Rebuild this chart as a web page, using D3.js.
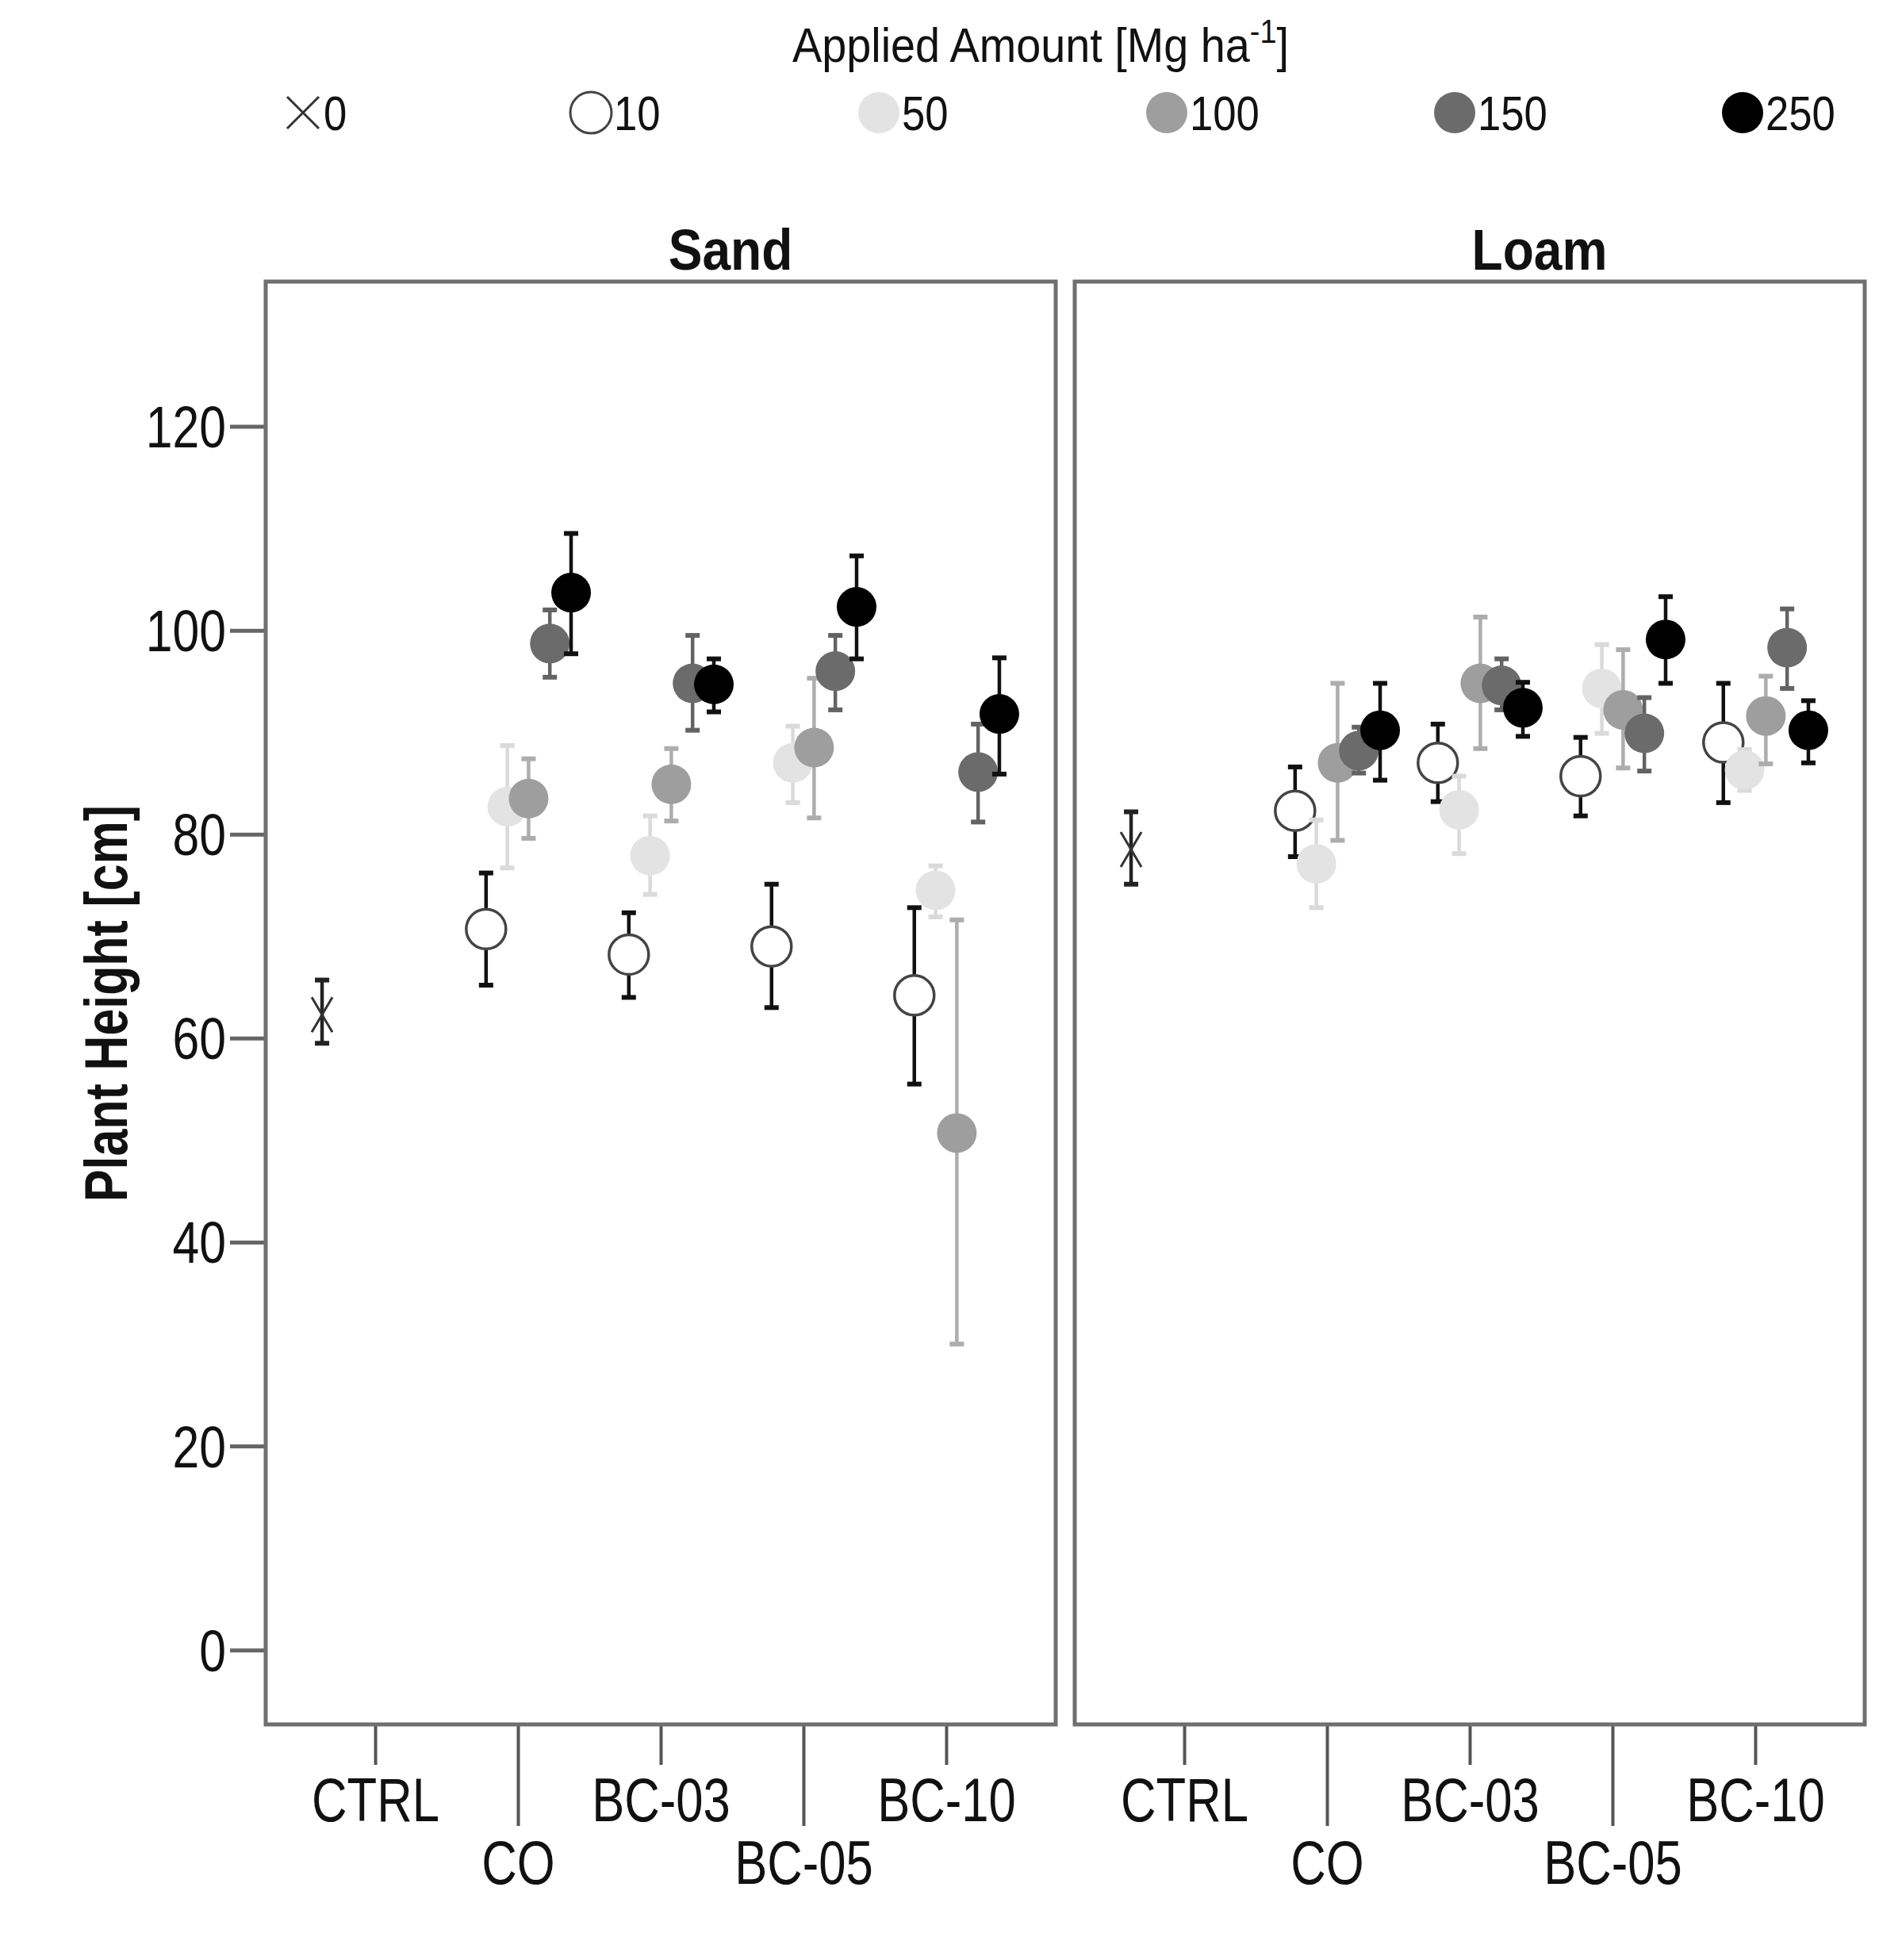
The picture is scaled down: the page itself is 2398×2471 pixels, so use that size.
<!DOCTYPE html>
<html>
<head>
<meta charset="utf-8">
<script src="https://cdn.jsdelivr.net/npm/d3@7"></script>
<style>
  body { margin: 0; background: #fff; }
  text { font-family: "Liberation Sans", Arial, sans-serif; fill: #111; }
</style>
</head>
<body>
<div id="chart"></div>
<script>
// categories and dose levels
const categories = ["CTRL", "CO", "BC-03", "BC-05", "BC-10"];
const treatments = ["CO", "BC-03", "BC-05", "BC-10"];
const doses = [0, 10, 50, 100, 150, 250];
const soils = ["Sand", "Loam"];
const yTicks = [0, 20, 40, 60, 80, 100, 120];

// control (dose 0), one value per soil
const ctrlMean = [62.3, 78.5];
const ctrlLow = [59.5, 75.1];
const ctrlHigh = [65.7, 82.2];

// rows: dose 10, 50, 100, 150, 250 ; columns: CO, BC-03, BC-05, BC-10
const sandMean = [
  [70.7, 68.2, 69.0, 64.2],
  [82.7, 77.9, 87.0, 74.5],
  [83.5, 84.9, 88.5, 50.7],
  [98.7, 94.8, 96.0, 86.1],
  [103.7, 94.7, 102.3, 91.8]
];
const sandLow = [
  [65.2, 64.0, 63.0, 55.5],
  [76.7, 74.1, 83.1, 71.9],
  [79.6, 81.3, 81.6, 30.0],
  [95.4, 90.2, 92.2, 81.2],
  [97.7, 92.0, 97.2, 85.9]
];
const sandHigh = [
  [76.2, 72.3, 75.1, 72.8],
  [88.7, 81.8, 90.6, 76.9],
  [87.4, 88.4, 95.3, 71.6],
  [102.0, 99.5, 99.5, 90.8],
  [109.5, 97.2, 107.3, 97.3]
];

const loamMean = [
  [82.3, 87.0, 85.7, 89.0],
  [77.1, 82.4, 94.3, 86.3],
  [87.0, 94.8, 92.2, 91.6],
  [88.2, 94.6, 89.9, 98.3],
  [90.2, 92.4, 99.1, 90.2]
];
const loamLow = [
  [77.8, 83.2, 81.8, 83.1],
  [72.8, 78.1, 89.9, 84.3],
  [79.4, 88.4, 86.5, 86.9],
  [86.0, 92.2, 86.2, 94.3],
  [85.3, 89.6, 94.8, 87.0]
];
const loamHigh = [
  [86.6, 90.8, 89.5, 94.8],
  [81.4, 85.7, 98.6, 88.3],
  [94.8, 101.3, 98.1, 95.5],
  [90.5, 97.2, 93.4, 102.1],
  [94.8, 94.9, 103.3, 93.1]
];

const fillColor = { 0: "none", 10: "#fff", 50: "#e3e3e3", 100: "#9e9e9e", 150: "#6b6b6b", 250: "#000" };
const barColor = { 0: "#222", 10: "#111", 50: "#dadada", 100: "#adadad", 150: "#636363", 250: "#111" };

function buildRows(si, mean, low, high) {
  const rows = [{ soil: soils[si], cat: "CTRL", dose: 0, mean: ctrlMean[si], low: ctrlLow[si], high: ctrlHigh[si] }];
  doses.slice(1).forEach((d, di) => {
    treatments.forEach((t, ti) => {
      rows.push({ soil: soils[si], cat: t, dose: d, mean: mean[di][ti], low: low[di][ti], high: high[di][ti] });
    });
  });
  return rows;
}
const data = {
  Sand: buildRows(0, sandMean, sandLow, sandHigh),
  Loam: buildRows(1, loamMean, loamLow, loamHigh)
};

const width = 2398, height = 2471;
const panelTop = 355, panelBottom = 2174;
const panels = [{ soil: "Sand", x0: 335, x1: 1331 }, { soil: "Loam", x0: 1355, x1: 2351 }];

const svg = d3.select("#chart").append("svg")
  .attr("width", width)
  .attr("height", height);

// the original uses a condensed face; squeeze text horizontally
function label(parent, x, y, str, size, sx, anchor, bold, rotate) {
  const g = parent.append("g")
    .attr("transform", `translate(${x},${y})` + (rotate ? ` rotate(${rotate})` : ""));
  const t = g.append("text")
    .attr("transform", `scale(${sx},1)`)
    .attr("text-anchor", anchor || "start")
    .style("font-size", size + "px")
    .style("font-weight", bold ? "bold" : null);
  if (str !== null) t.text(str);
  return t;
}

const y = d3.scaleLinear().domain([-7.3, 134.2]).range([panelBottom, panelTop]);
const dx = d3.scalePoint().domain(doses).range([-67, 67]);
const r = 25;

// legend
const legend = svg.append("g");
const title = label(legend, 1312, 78, null, 62, 0.9, "middle");
title.append("tspan").text("Applied Amount [Mg ha");
title.append("tspan").attr("dy", -24).style("font-size", "42px").text("-1");
title.append("tspan").attr("dy", 24).text("]");

const lx = d3.scalePoint().domain(doses).range([382, 2197]);
doses.forEach(d => {
  const g = legend.append("g").attr("transform", `translate(${lx(d)},142)`);
  if (d === 0) {
    g.append("path").attr("d", "M-20,-20L20,20M-20,20L20,-20")
      .attr("stroke", "#333").attr("stroke-width", 3).attr("fill", "none");
  } else {
    g.append("circle").attr("r", 26)
      .attr("fill", fillColor[d])
      .attr("stroke", d === 10 ? "#444" : "none")
      .attr("stroke-width", 3);
  }
  label(g, d === 0 ? 26 : 29, 22, d, 62, 0.85, "start");
});

// y axis
const yAxis = svg.append("g").attr("transform", `translate(${panels[0].x0},0)`)
  .call(d3.axisLeft(y).tickValues(yTicks).tickSize(45).tickFormat(""));
yAxis.select(".domain").remove();
yAxis.selectAll(".tick line").attr("stroke", "#666").attr("stroke-width", 5);
yAxis.selectAll(".tick").each(function (v) {
  label(d3.select(this), -50, 26, v, 74, 0.82, "end");
});

label(svg, 160, 1265, "Plant Height [cm]", 76, 0.8, "middle", true, -90);

panels.forEach(p => {
  const x = d3.scalePoint().domain(categories).range([p.x0, p.x1]).padding(0.767);
  const g = svg.append("g");

  label(g, (p.x0 + p.x1) / 2 + 88, 340, p.soil, 72, 0.89, "middle", true);

  // x axis ticks, staggered labels
  const ax = g.append("g").attr("transform", `translate(0,${panelBottom})`)
    .call(d3.axisBottom(x).tickSize(0).tickFormat(""));
  ax.select(".domain").remove();
  ax.selectAll(".tick").each(function (c, i) {
    const t = d3.select(this);
    const low = i % 2 === 1;
    t.append("line").attr("y1", 0).attr("y2", low ? 128 : 51)
      .attr("stroke", "#555").attr("stroke-width", 4);
    label(t, 0, low ? 201 : 122, c, 77, 0.8, "middle");
  });

  g.append("rect")
    .attr("x", p.x0).attr("y", panelTop)
    .attr("width", p.x1 - p.x0).attr("height", panelBottom - panelTop)
    .attr("fill", "none").attr("stroke", "#6f6f6f").attr("stroke-width", 5);

  const rows = data[p.soil];
  doses.forEach(d => {
    const sub = rows.filter(row => row.dose === d);
    const pts = g.append("g").selectAll("g").data(sub).join("g")
      .attr("transform", row => `translate(${x(row.cat) + dx(d)},0)`);
    pts.append("line")
      .attr("y1", row => y(row.low)).attr("y2", row => y(row.high))
      .attr("stroke", barColor[d]).attr("stroke-width", 4.5);
    pts.append("line")
      .attr("x1", -9).attr("x2", 9)
      .attr("y1", row => y(row.high)).attr("y2", row => y(row.high))
      .attr("stroke", barColor[d]).attr("stroke-width", 6);
    pts.append("line")
      .attr("x1", -9).attr("x2", 9)
      .attr("y1", row => y(row.low)).attr("y2", row => y(row.low))
      .attr("stroke", barColor[d]).attr("stroke-width", 6);
    if (d === 0) {
      pts.append("path")
        .attr("d", row => `M-13,${y(row.mean) - 22}L13,${y(row.mean) + 22}M-13,${y(row.mean) + 22}L13,${y(row.mean) - 22}`)
        .attr("stroke", "#333").attr("stroke-width", 3).attr("fill", "none");
    } else {
      pts.append("circle")
        .attr("cy", row => y(row.mean)).attr("r", r)
        .attr("fill", fillColor[d])
        .attr("stroke", d === 10 ? "#444" : "none")
        .attr("stroke-width", 3.5);
    }
  });
});
</script>
</body>
</html>
